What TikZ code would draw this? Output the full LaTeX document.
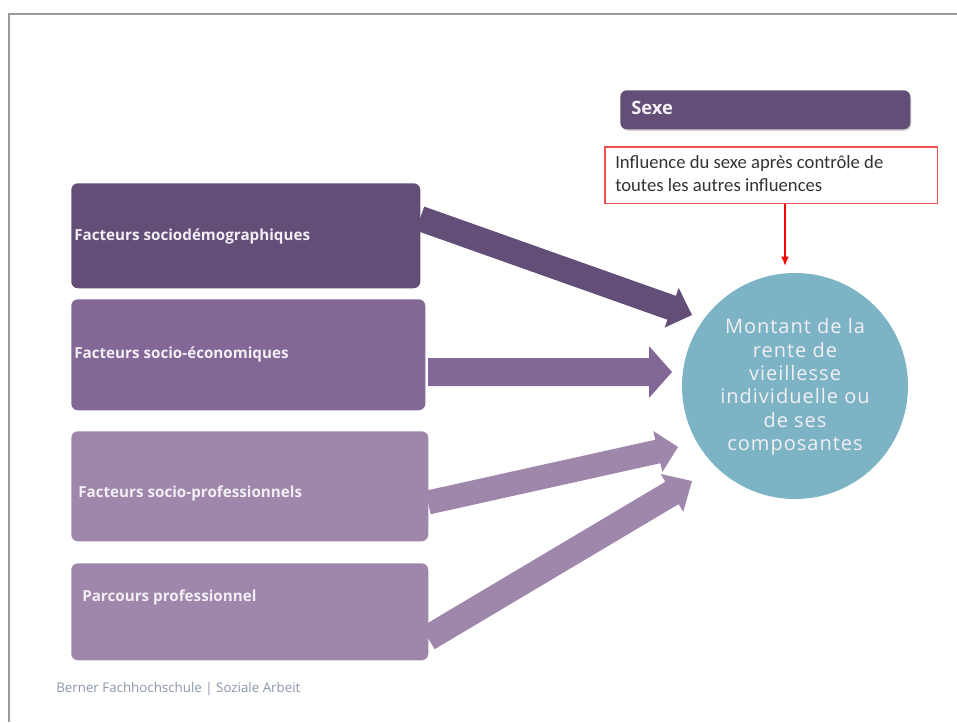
\documentclass[tikz,border=0pt]{standalone}
\usepackage{fontspec}
\setmainfont{Carlito}
\newfontfamily\osans{Open Sans}
\newfontfamily\circfont[LetterSpace=5]{Open Sans}
\usetikzlibrary{calc,arrows.meta,shadows}
\definecolor{pdark}{HTML}{634E78}
\definecolor{pmid}{HTML}{836797}
\definecolor{plight}{HTML}{9F86AB}
\definecolor{circteal}{HTML}{7DB4C5}
\definecolor{boxred}{RGB}{240,80,80}
\definecolor{footgray}{HTML}{8A96A8}
\definecolor{lighttext}{HTML}{F2EFF4}
\newcommand{\blockarrow}[6]{%
  \coordinate (bah) at ($(#2)!#6!(#1)$);
  \fill[#3] ($(#1)!#4!90:(#2)$) -- ($(bah)!#4!-90:(#1)$) -- ($(bah)!#5!-90:(#1)$)
    -- (#2) -- ($(bah)!#5!90:(#1)$) -- ($(bah)!#4!90:(#1)$) -- ($(#1)!#4!-90:(#2)$) -- cycle;}
\tikzset{
  factbox/.style={rectangle, rounded corners=5pt, anchor=north west, inner sep=0pt},
  factlabel/.style={anchor=west, inner sep=0pt, text=lighttext, font=\osans\bfseries\fontsize{11.4}{13}\selectfont},
}
\begin{document}
\begin{tikzpicture}[x=0.75pt,y=-0.75pt]
\useasboundingbox (0,0) rectangle (957,722);
% frame
\draw[gray!80, line width=1.2pt] (957,14) -- (9,14) -- (9,722);
% Sexe box
\node[factbox, fill=pdark, drop shadow={shadow xshift=0.8pt, shadow yshift=-1.2pt, opacity=0.35},
  minimum width={290*0.75pt}, minimum height={39*0.75pt}] (sexe) at (620,90) {};
\node[anchor=west, inner sep=0pt, text=lighttext, font=\osans\bfseries\fontsize{13.8}{15}\selectfont] (sexelbl) at (631,108) {Sexe};
% influence box
\node[anchor=north west, minimum width={332*0.75pt}, minimum height={56*0.75pt}, inner sep=0pt] (inf) at (605,147) {};
\draw[boxred, line width=1.1pt] (inf.north west) rectangle (inf.south east);
\node[anchor=north west, inner sep=0pt, align=left, text=black!80, font=\fontsize{14}{17.3}\selectfont] (inflbl) at (615,155)
  {Influence du sexe après contrôle de\\toutes les autres influences};
\coordinate (rtip) at (785,266);
\draw[red, line width=1.5pt, -{Latex[length=7pt,width=6pt]}] (inf.south -| rtip) -- (rtip);
% factor boxes
\node[factbox, fill=pdark, minimum width={349*0.75pt}, minimum height={105*0.75pt}] (b1) at (71,183) {};
\node[factbox, fill=pmid, minimum width={354*0.75pt}, minimum height={111*0.75pt}] (b2) at (71,299) {};
\node[factbox, fill=plight, minimum width={357*0.75pt}, minimum height={110*0.75pt}] (b3) at (71,431) {};
\node[factbox, fill=plight, minimum width={357*0.75pt}, minimum height={97*0.75pt}] (b4) at (71,563) {};
\node[factlabel] (l1) at (74,236) {Facteurs sociodémographiques};
\node[factlabel] (l2) at (74,354) {Facteurs socio-économiques};
\node[factlabel] (l3) at (78,494) {Facteurs socio-professionnels};
\node[factlabel] (l4) at (82,598) {Parcours professionnel};
% target circle
\node[circle, fill=circteal, minimum size={226*0.75pt}, inner sep=0pt] (circ) at (795,386) {};
\node[align=center, text=lighttext, font=\circfont\fontsize{15}{17.6}\selectfont, inner sep=0pt] (circlbl) at (795,387)
  {Montant de la\\rente de\\vieillesse\\individuelle ou\\de ses\\composantes};
% block arrows
\coordinate (s1) at (420,218.5); \coordinate (t1) at (692,315);
\coordinate (s2) at (428,372);   \coordinate (t2) at (672,372);
\coordinate (s3) at (428,502.5); \coordinate (t3) at (678,447);
\coordinate (s4) at (428,638);   \coordinate (t4) at (692,481);
\blockarrow{s1}{t1}{pdark}{9.5pt}{15.75pt}{16.2pt}
\blockarrow{s2}{t2}{pmid}{10.5pt}{19.5pt}{17.25pt}
\blockarrow{s3}{t3}{plight}{9pt}{15.75pt}{15.5pt}
\blockarrow{s4}{t4}{plight}{9.75pt}{16.5pt}{17.5pt}
% footer
\node[anchor=west, inner sep=0pt, text=footgray, font=\osans\fontsize{10}{12}\selectfont] (foot) at (56,689)
  {Berner Fachhochschule | Soziale Arbeit};
\end{tikzpicture}
\end{document}
